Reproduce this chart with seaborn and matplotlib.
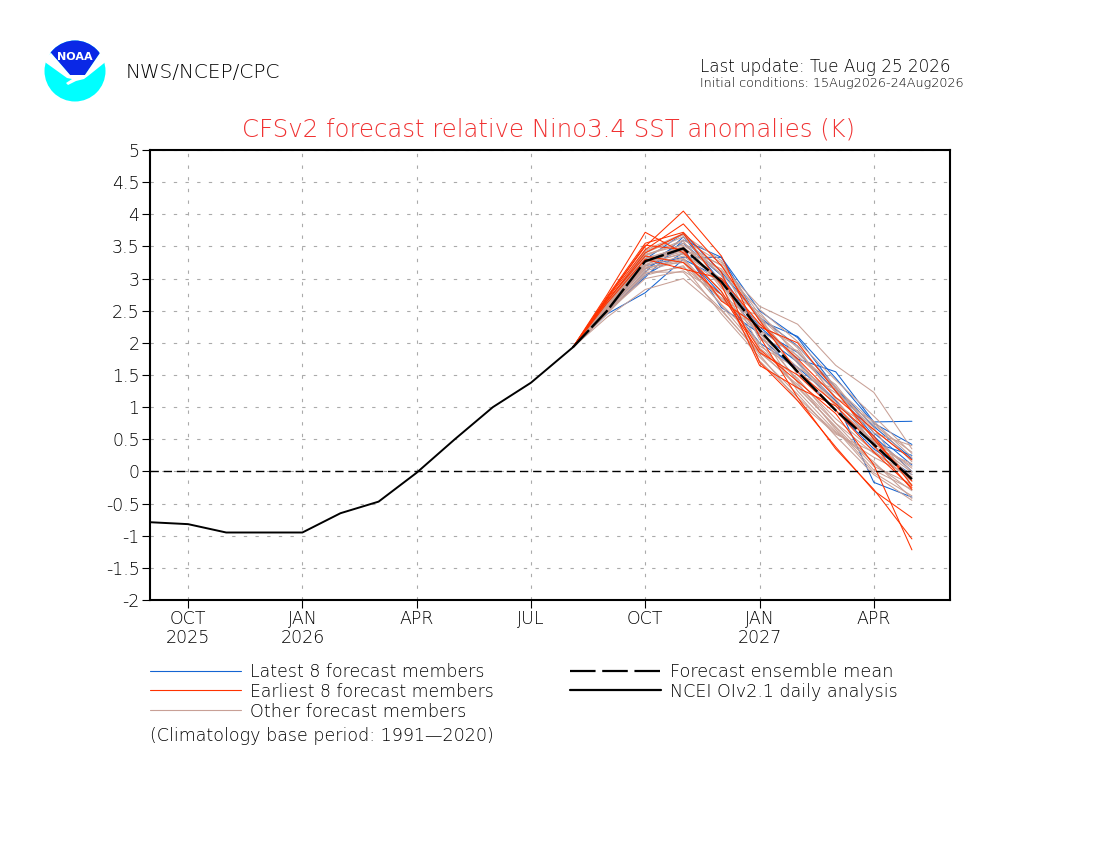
import numpy as np
import pandas as pd
import seaborn as sns
import matplotlib
matplotlib.use("Agg")
import matplotlib.pyplot as plt
from matplotlib.lines import Line2D
from matplotlib.patches import Circle, Polygon
from matplotlib.textpath import TextPath
from matplotlib.font_manager import FontProperties

# ---- data (x = months since Sep 2025) ----
tick_pos = [1, 4, 7, 10, 13, 16, 19]
tick_labels = ["OCT\n2025", "JAN\n2026", "APR", "JUL", "OCT", "JAN\n2027", "APR"]
y_ticks = [-2, -1.5, -1, -0.5, 0, 0.5, 1, 1.5, 2, 2.5, 3, 3.5, 4, 4.5, 5]
y_labels = ["-2", "-1.5", "-1", "-0.5", "0", "0.5", "1", "1.5", "2", "2.5", "3", "3.5", "4", "4.5", "5"]

obs_x = [0, 1, 2, 3, 4, 5, 6, 7, 8, 9, 10, 11.1]
obs_y = [-0.79, -0.82, -0.95, -0.95, -0.95, -0.65, -0.47, -0.02, 0.50, 1.00, 1.38, 1.93]

fc_x = [11.1, 12, 13, 14, 15, 16, 17, 18, 19, 20]
fc_mean = [1.93, 2.50, 3.27, 3.47, 2.95, 2.20, 1.55, 0.95, 0.42, -0.12]

latest = [
    [1.93, 2.45, 2.78, 3.30, 3.00, 2.25, 1.75, 1.55, 0.77, 0.78],
    [1.93, 2.50, 3.02, 3.60, 3.33, 2.35, 2.10, 1.45, 0.75, 0.42],
    [1.93, 2.55, 3.20, 3.33, 3.33, 2.50, 2.08, 1.30, 0.70, 0.20],
    [1.93, 2.48, 3.05, 3.40, 2.75, 2.00, 1.62, 1.10, -0.17, -0.40],
    [1.93, 2.60, 3.25, 3.55, 3.05, 2.20, 1.85, 1.25, 0.55, 0.00],
    [1.93, 2.52, 3.10, 3.65, 2.95, 2.10, 1.55, 0.95, 0.35, -0.05],
    [1.93, 2.58, 3.15, 3.48, 2.55, 2.15, 1.70, 1.10, 0.45, 0.25],
    [1.93, 2.62, 3.30, 3.70, 3.10, 2.40, 1.95, 1.30, 0.60, 0.10],
]
earliest = [
    [1.93, 2.75, 3.72, 3.40, 2.80, 1.90, 1.40, 0.90, 0.10, -1.22],
    [1.93, 2.70, 3.50, 4.05, 3.35, 2.10, 1.15, 0.35, -0.28, -1.05],
    [1.93, 2.72, 3.55, 3.72, 3.10, 1.70, 1.10, 0.38, -0.30, -0.72],
    [1.93, 2.68, 3.45, 3.85, 3.20, 2.35, 1.55, 1.05, 0.55, -0.22],
    [1.93, 2.65, 3.40, 3.70, 2.90, 1.65, 1.30, 1.02, 0.40, -0.28],
    [1.93, 2.62, 3.30, 3.15, 3.00, 2.30, 1.75, 1.15, 0.65, 0.18],
    [1.93, 2.70, 3.52, 3.45, 2.65, 2.25, 2.00, 1.25, 0.50, -0.15],
    [1.93, 2.66, 3.35, 3.25, 2.75, 1.85, 1.50, 0.95, 0.30, -0.25],
]
others = [
    [1.93, 2.55, 3.20, 3.55, 3.20, 2.57, 2.29, 1.65, 1.23, 0.35],
    [1.93, 2.40, 2.83, 3.00, 2.50, 1.85, 1.35, 0.75, 0.28, -0.05],
    [1.93, 2.48, 3.00, 3.12, 2.75, 2.30, 1.72, 1.05, 0.65, 0.18],
    [1.93, 2.52, 3.15, 3.30, 2.65, 2.42, 1.50, 1.28, 0.50, 0.05],
    [1.93, 2.58, 3.28, 3.45, 3.22, 2.05, 1.88, 1.15, 0.78, 0.22],
    [1.93, 2.60, 3.35, 3.58, 2.85, 2.48, 1.78, 1.35, 0.60, 0.40],
    [1.93, 2.62, 3.40, 3.65, 3.05, 1.95, 1.60, 0.95, 0.48, -0.10],
    [1.93, 2.50, 3.18, 3.25, 2.60, 2.00, 1.30, 0.70, 0.08, -0.20],
    [1.93, 2.45, 3.05, 3.20, 2.45, 1.78, 1.20, 0.55, -0.05, -0.45],
    [1.93, 2.55, 3.22, 3.40, 3.00, 2.28, 1.95, 1.32, 0.38, 0.12],
    [1.93, 2.64, 3.42, 3.68, 3.28, 2.35, 1.72, 1.08, 0.52, 0.00],
    [1.93, 2.57, 3.30, 3.50, 2.90, 2.12, 1.42, 0.82, 0.32, -0.15],
    [1.93, 2.53, 3.25, 3.38, 2.98, 2.18, 1.25, 0.62, 0.15, -0.42],
    [1.93, 2.60, 3.38, 3.52, 3.12, 2.52, 2.02, 1.42, 0.86, 0.28],
    [1.93, 2.49, 3.12, 3.28, 2.58, 1.88, 1.32, 0.68, 0.02, -0.28],
    [1.93, 2.56, 3.26, 3.42, 2.80, 1.72, 1.15, 0.60, 0.22, -0.08],
    [1.93, 2.61, 3.36, 3.60, 3.25, 2.44, 1.92, 1.12, 0.44, -0.02],
    [1.93, 2.47, 3.08, 3.18, 2.70, 2.20, 1.80, 1.25, 0.72, 0.30],
    [1.93, 2.54, 3.20, 3.35, 2.92, 2.22, 1.38, 0.65, -0.02, -0.38],
    [1.93, 2.59, 3.32, 3.48, 3.08, 2.38, 1.68, 1.02, 0.46, 0.08],
    [1.93, 2.51, 3.16, 3.32, 2.68, 2.15, 1.62, 1.22, 0.68, -0.22],
    [1.93, 2.63, 3.44, 3.70, 2.88, 1.92, 1.45, 0.75, 0.12, -0.30],
    [1.93, 2.46, 3.10, 3.10, 2.52, 1.82, 1.10, 0.58, 0.30, -0.12],
    [1.93, 2.56, 3.28, 3.44, 3.15, 2.40, 1.85, 1.30, 0.76, 0.15],
]

BLUE = "#1464d2"
RED = "#ff3200"
GREY = "#c8a096"

sns.set_theme(style="white")
FONT = FontProperties(family="DejaVu Sans", weight="light")
plt.rcParams["font.family"] = ["DejaVu Sans"]
plt.rcParams["font.weight"] = "light"

W, H = 1100, 850
fig = plt.figure(figsize=(W / 100, H / 100), dpi=100, facecolor="white")
ax = fig.add_axes([150 / W, (H - 600) / H, 800 / W, 450 / H])


def long_form(rows, prefix):
    return pd.DataFrame([
        {"x": x, "y": y, "member": f"{prefix}{i}"}
        for i, row in enumerate(rows) for x, y in zip(fc_x, row)
    ])


for rows, prefix, col, z in [(latest, "L", BLUE, 3), (others, "O", GREY, 4), (earliest, "E", RED, 5)]:
    sns.lineplot(data=long_form(rows, prefix), x="x", y="y", units="member", estimator=None,
                 color=col, lw=0.75, ax=ax, zorder=z, legend=False)

sns.lineplot(x=obs_x, y=obs_y, color="black", lw=1.4, ax=ax, zorder=7, legend=False, errorbar=None)
sns.lineplot(x=fc_x, y=fc_mean, color="black", lw=1.7, ax=ax, zorder=7, legend=False, errorbar=None,
             linestyle=(0, (10, 1.5)))

ax.axhline(0, color="black", lw=1.0, ls=(0, (6, 3.5)), zorder=6)
ax.set_xlim(0, 21)
ax.set_ylim(-2, 5)
ax.set_xlabel("")
ax.set_ylabel("")
ax.set_xticks(tick_pos)
ax.set_xticklabels(tick_labels, fontsize=12.5, linespacing=1.05, color="black")
ax.set_yticks(y_ticks)
ax.set_yticklabels(y_labels, fontsize=12.5, color="black")
ax.tick_params(axis="both", length=5.5, width=0.8, color="black", direction="out", pad=2, bottom=True, left=True)
ax.grid(True, color="#aaaaaa", lw=0.8, ls=(0, (3, 7.5)), zorder=1)
ax.set_axisbelow(True)
for s in ax.spines.values():
    s.set_color("black")
    s.set_linewidth(1.5)


def fit_text(x, y, s, width, color="black", ha="left"):
    # font size chosen so the string spans the measured width in pixels
    natural = TextPath((0, 0), s, size=10, prop=FONT).get_extents().width * 100 / 72
    size = 9.9 * width / natural
    fig.text(x / W, 1 - (y + 1) / H, s, fontsize=size, color=color, ha=ha, va="center")


def leg_line(x0, x1, y, color, lw, ls="-"):
    fig.add_artist(Line2D([x0 / W, x1 / W], [1 - y / H, 1 - y / H], color=color, lw=lw, ls=ls,
                          transform=fig.transFigure))


fit_text(242, 128, "CFSv2 forecast relative Nino3.4 SST anomalies (K)", 616, color="#f03232")
fit_text(126, 71, "NWS/NCEP/CPC", 153)
fit_text(700, 66, "Last update: Tue Aug 25 2026", 250)
fit_text(700, 82, "Initial conditions: 15Aug2026-24Aug2026", 265)

leg_line(150, 241, 671, BLUE, 0.8)
leg_line(150, 241, 690, RED, 0.8)
leg_line(150, 241, 710, GREY, 0.8)
leg_line(570, 661, 671, "black", 1.6, (0, (11.5, 3)))
leg_line(570, 661, 690, "black", 1.6)
fit_text(250, 671, "Latest 8 forecast members", 233)
fit_text(250, 691, "Earliest 8 forecast members", 243)
fit_text(250, 711, "Other forecast members", 216)
fit_text(670, 671, "Forecast ensemble mean", 221)
fit_text(670, 691, "NCEI OIv2.1 daily analysis", 227)
fit_text(150, 735, "(Climatology base period: 1991\u20142020)", 344)

# NOAA logo, drawn in pixel coordinates on an overlay
lg = fig.add_axes([0, 0, 1, 1], facecolor="none", zorder=10)
lg.set_xlim(0, W)
lg.set_ylim(H, 0)
lg.axis("off")
disc = Circle((75, 71), 30.5, color="#00ffff", lw=0)
lg.add_patch(disc)
top = Polygon([(40, 38), (110, 38), (110, 49), (100, 53), (85, 75), (70, 75), (51, 53), (40, 49)],
              closed=True, color="#0a28e6", lw=0)
lg.add_patch(top)
top.set_clip_path(disc)
wing = Polygon([(42, 60), (51, 53), (70, 75), (85, 75), (100, 53), (108, 60), (88, 76), (84, 79),
                (76, 81), (68, 85), (66, 83), (72, 79), (67, 78)],
               closed=True, color="white", lw=0)
lg.add_patch(wing)
lg.text(75, 57, "NOAA", color="white", fontsize=8, fontweight="bold", ha="center", va="center")

fig.savefig("out.png", dpi=100, facecolor="white")
